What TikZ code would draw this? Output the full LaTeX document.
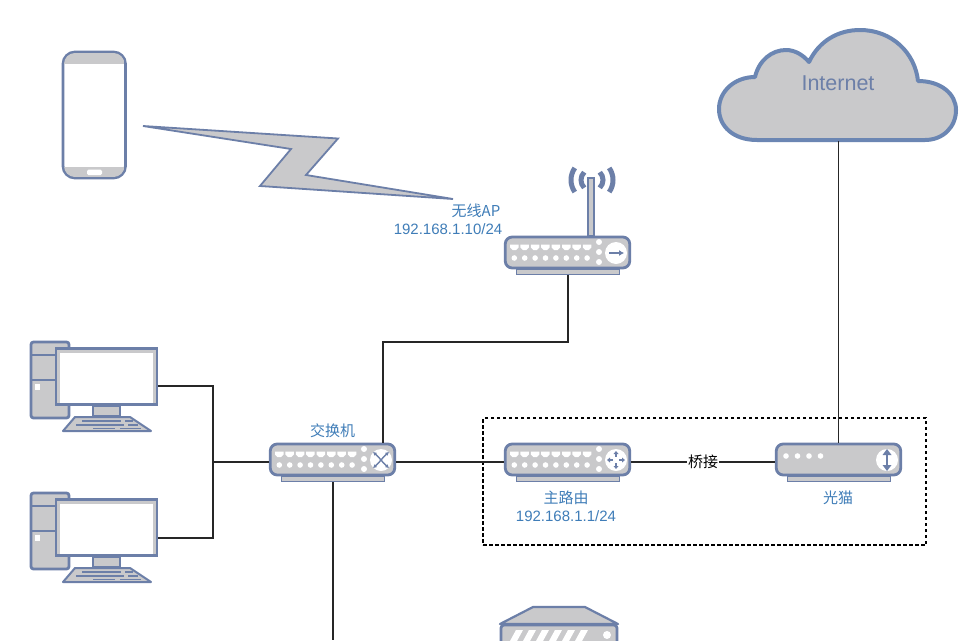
\documentclass[tikz,border=0pt]{standalone}
\usepackage{fontspec}
\usetikzlibrary{arrows.meta}
\setmainfont{Liberation Sans}
\newfontfamily\cjk{Noto Sans CJK SC}
\definecolor{edgeblue}{HTML}{6C7FA8}
\definecolor{cloudblue}{HTML}{6B86B3}
\definecolor{bodygray}{HTML}{C9C9CB}
\definecolor{labelblue}{HTML}{3F7DB8}
\tikzset{
  devline/.style={draw=edgeblue,line width=2.8pt},
  devbody/.style={devline,fill=bodygray,rounded corners=7pt,minimum width=124.5pt,minimum height=31pt,inner sep=0pt,outer sep=1.4pt},
  devbase/.style={devline,line width=1.8pt,fill=bodygray,minimum width=103pt,minimum height=5pt,inner sep=0pt,outer sep=.9pt},
  wire/.style={draw=black!85,line width=1.3pt},
  lbl/.style={text=labelblue,font=\fontsize{15}{18}\selectfont,inner sep=0pt},
  iconline/.style={draw=edgeblue,line width=1.6pt},
  low/.style={yshift=-2.5pt},
}
% \device{name}{left x}{top y}
\newcommand{\device}[3]{%
  \node[devbase] (#1b) at (#2+64,#3+36) {};
  \node[devbody] (#1) at (#2+63.5,#3+16.5) {};
  \begin{scope}[shift={(#2,#3)}]
    \fill[white] (112,17) circle (11pt);
  \end{scope}
}
\newcommand{\ports}[2]{%
  \begin{scope}[shift={(#1,#2)}]
    \foreach \i in {0,...,7}{
      \fill[white] (6+10.4*\i,8.5) -- (14.5+10.4*\i,8.5) -- (14.5+10.4*\i,11.5) -- (12+10.4*\i,14) -- (8.5+10.4*\i,14) -- (6+10.4*\i,11.5) -- cycle;
      \fill[white] (10.3+10.4*\i,22) circle (2.8pt);
    }
    \foreach \j in {6,16,26}{\fill[white] (95,\j) circle (3pt);}
  \end{scope}
}
\newcommand{\pc}[2]{%
  \begin{scope}[shift={(#1,#2)}]
    \draw[devline,fill=bodygray,rounded corners=2.5pt] (31,342) rectangle (69,418);
    \draw[devline] (31,355) -- (56,355) (31,380) -- (56,380);
    \fill[white] (35,384) rectangle (40,390);
    \draw[devline,fill=bodygray] (93,406) rectangle (120,416);
    \draw[devline,line width=2pt,fill=bodygray,line join=round] (75,417) -- (130,417) -- (151,431) -- (63,431) -- cycle;
    \draw[iconline,line width=1.5pt] (82,421) -- (121,421) (125,421) -- (133,421)
      (76,425) -- (124,425) (128,425) -- (138,425) (93,428.5) -- (115,428.5) (120,428.5) -- (141,428.5);
  \end{scope}
}
\begin{document}
\begin{tikzpicture}[x=1pt,y=-1pt]
\useasboundingbox (0,0) rectangle (974,640);
\clip (0,0) rectangle (974,640);
\fill[white] (0,0) rectangle (974,640);

% phone
\draw[devline,fill=white,rounded corners=12pt] (63,52) rectangle (125.5,178);
\begin{scope}
  \clip[rounded corners=11pt] (64,53) rectangle (124.5,177);
  \fill[bodygray] (64,53) rectangle (124.5,64);
  \fill[bodygray] (64,167) rectangle (124.5,177);
\end{scope}
\fill[white,rounded corners=1.5pt] (87,169.5) rectangle (102,175);

% lightning
\draw[edgeblue,line width=1.8pt,fill=bodygray,line join=miter] (143,126) -- (338,138.5) -- (306,175) -- (453,199) -- (260,186) -- (291,149) -- cycle;

% cloud
\node[inner sep=0pt] (cloud) at (838,84.5) [minimum width=239pt,minimum height=113pt] {};
\draw[draw=cloudblue,line width=4pt,fill=bodygray,line join=round]
  (757,140) .. controls (733,140) and (719,126) .. (719,109)
  .. controls (719,91) and (735,77) .. (755,77)
  .. controls (759,60) and (772,50) .. (786,50)
  .. controls (795,50) and (803,55) .. (809,62)
  .. controls (819,41) and (838,30) .. (860,30)
  .. controls (892,30) and (915,53) .. (918,81)
  .. controls (941,81) and (956,94) .. (956,110)
  .. controls (956,127) and (943,140) .. (925,140)
  -- cycle;
\node[text=edgeblue,font=\fontsize{21.5}{24}\selectfont,inner sep=0pt] (inet) at (838,83) {Internet};

% dashed frame
\node[draw=black,dash pattern=on 3.5pt off 2.5pt,line width=1.2pt,minimum width=443pt,minimum height=127pt,inner sep=0pt] (frame) at (704.5,481.5) {};

% computers
\pc{0}{0}
\pc{0}{151}
\node[devline,fill=bodygray,minimum width=101pt,minimum height=56pt,inner sep=0pt,outer sep=1.4pt] (pcA) at (106.5,376.5) {};
\node[fill=white,minimum width=93pt,minimum height=50pt,inner sep=0pt] (pcAs) at (106.5,378) {};
\node[devline,fill=bodygray,minimum width=101pt,minimum height=56pt,inner sep=0pt,outer sep=1.4pt] (pcB) at (106.5,527.5) {};
\node[fill=white,minimum width=93pt,minimum height=50pt,inner sep=0pt] (pcBs) at (106.5,529) {};

% server at the bottom edge
\draw[devline,line width=2.2pt,fill=bodygray,line join=round] (533,607) -- (585,607) -- (618,624) -- (500,624) -- cycle;
\draw[devline,fill=bodygray,rounded corners=3pt] (501,625) rectangle (617,660);
\foreach \i in {0,...,5}{\fill[white] (510+\i*13,641) -- (516+\i*13,630) -- (523+\i*13,630) -- (517+\i*13,641) -- cycle;}
\fill[white] (607,635) circle (4pt);

% antenna
\draw[edgeblue,line width=1.8pt,fill=bodygray] (588,178) rectangle (594,236);
\draw[edgeblue,line width=5pt]
  (592,180) +(145:21pt) arc (145:215:21pt)
  (592,180) +(35:21pt) arc (35:-35:21pt)
  (592,180) +(135:11pt) arc (135:225:11pt)
  (592,180) +(45:11pt) arc (45:-45:11pt);

% devices
\device{ap}{504}{236}
\ports{504}{236}
\device{sw}{269}{443}
\ports{269}{443}
\device{rt}{504}{443}
\ports{504}{443}
\device{md}{775}{443}
\foreach \i in {0,1,2,3}{\fill[white] (786+\i*11.5,456) circle (2.8pt);}

% icons
\begin{scope}[shift={(616,253)}]
  \draw[iconline,line width=2.2pt,-{Latex[length=5pt,width=6pt]}] (-7,0) -- (8,0);
\end{scope}
\begin{scope}[shift={(381,460)}]
  \draw[iconline,line width=1.4pt,{Latex[length=3.5pt,width=4pt]}-{Latex[length=3.5pt,width=4pt]}] (-8,-8) .. controls (-1,-2) and (1,2) .. (8,8);
  \draw[iconline,line width=1.4pt,{Latex[length=3.5pt,width=4pt]}-{Latex[length=3.5pt,width=4pt]}] (8,-8) .. controls (1,-2) and (-1,2) .. (-8,8);
\end{scope}
\begin{scope}[shift={(616,460)}]
  \draw[iconline,line width=1.2pt] (-8,0) -- (-3,0) (8,0) -- (3,0) (0,-8) -- (0,-3) (0,8) -- (0,3);
  \fill[edgeblue] (-9,0) -- (-6,-2.5) -- (-6,2.5) -- cycle (9,0) -- (6,-2.5) -- (6,2.5) -- cycle (0,-9) -- (-2.5,-6) -- (2.5,-6) -- cycle (0,9) -- (-2.5,6) -- (2.5,6) -- cycle;
\end{scope}
\begin{scope}[shift={(887,460)}]
  \draw[iconline,line width=2.2pt] (0,-7) -- (0,7);
  \fill[edgeblue] (0,-11) -- (-4.5,-5) -- (4.5,-5) -- cycle (0,11) -- (-4.5,5) -- (4.5,5) -- cycle;
\end{scope}

% connectors
\coordinate (junc) at (213,462);
\coordinate (apturn) at (383,342);
\coordinate (swdown) at (333,640);
\draw[wire] (pcA.east) ++(0,9.5) -| (junc) |- ([yshift=-10.5pt]pcB.east);
\draw[wire] ([low]sw.west) -- (junc);
\draw[wire] ([low]sw.east) -- ([low]rt.west);
\draw[wire] ([low]rt.east) -- node[pos=.5,inner sep=1pt,fill=white,text=black,font=\cjk\fontsize{15}{18}\selectfont] (bridge) {桥接} ([low]md.west);
\draw[wire] (md.north |- cloud.south) -- (md.north);
\draw[wire] (apb.south) |- (apturn) -- (apturn |- sw.north);
\draw[wire] (swb.south) -- (swdown);

% labels
\node[lbl,font=\cjk\fontsize{15}{18}\selectfont] (apname) at (476,211) {无线AP};
\node[lbl] (apip) at (448,229) {192.168.1.10/24};
\node[lbl,font=\cjk\fontsize{15}{18}\selectfont] (swname) at (332.5,431) {交换机};
\node[lbl,font=\cjk\fontsize{15}{18}\selectfont] (rtname) at (566,498) {主路由};
\node[lbl] (rtip) at (566,516) {192.168.1.1/24};
\node[lbl,font=\cjk\fontsize{15}{18}\selectfont] (mdname) at (838,498) {光猫};
\end{tikzpicture}
\end{document}
